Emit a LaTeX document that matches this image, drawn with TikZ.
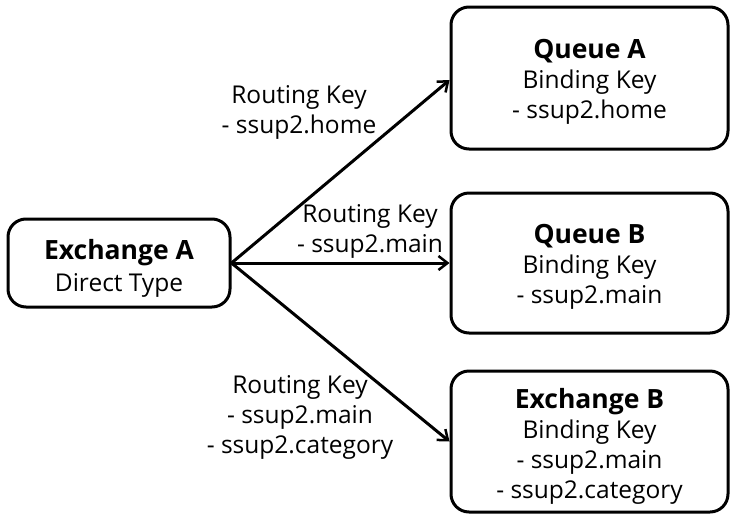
\documentclass[tikz,border=0pt]{standalone}
\usepackage{fontspec}
\setmainfont{Open Sans}
\usetikzlibrary{arrows.meta}
\newcommand{\ttl}[1]{{\fontsize{26.5}{30}\selectfont\bfseries #1}}
\begin{document}
\begin{tikzpicture}[x=1pt,y=-1pt,
  box/.style={draw, line width=3pt, rounded corners=18pt, inner sep=0pt},
  txt/.style={align=center, inner sep=0pt, font=\fontsize{24.5}{30}\selectfont},
  lbl/.style={align=center, font=\fontsize{24.5}{30}\selectfont},
  conn/.style={line width=3pt, -{Straight Barb[length=9pt,width=14pt,line width=2.5pt]}}]
\useasboundingbox (0,0) rectangle (740,523);
\node[box, minimum width=222pt, minimum height=88pt] (exa) at (119,263) {};
\node[box, minimum width=277pt, minimum height=142pt] (qa) at (589.5,78) {};
\node[box, minimum width=277pt, minimum height=140pt] (qb) at (589.5,263) {};
\node[box, minimum width=277pt, minimum height=141pt] (exb) at (589.5,441.5) {};
\node[txt, font=\fontsize{24.5}{32}\selectfont] (exat) at ([yshift=-5pt]exa.center) {\ttl{Exchange A}\\Direct Type};
\node[txt] (qat) at ([yshift=-4pt]qa.center) {\ttl{Queue A}\\Binding Key\\- ssup2.home};
\node[txt] (qbt) at ([yshift=-4pt]qb.center) {\ttl{Queue B}\\Binding Key\\- ssup2.main};
\node[txt] (exbt) at ([yshift=-5pt]exb.center) {\ttl{Exchange B}\\Binding Key\\- ssup2.main\\- ssup2.category};
\draw[conn] (exa.east) -- ([yshift=-2pt]qa.west);
\draw[conn] (exa.east) -- (qb.west);
\draw[conn] (exa.east) -- (exb.west);
\node[lbl] (l1) at (299,112) {Routing Key\\- ssup2.home};
\node[lbl] (l2) at (370,231) {Routing Key\\- ssup2.main};
\node[lbl] (l3) at (300,417) {Routing Key\\- ssup2.main\\- ssup2.category};
\end{tikzpicture}
\end{document}
